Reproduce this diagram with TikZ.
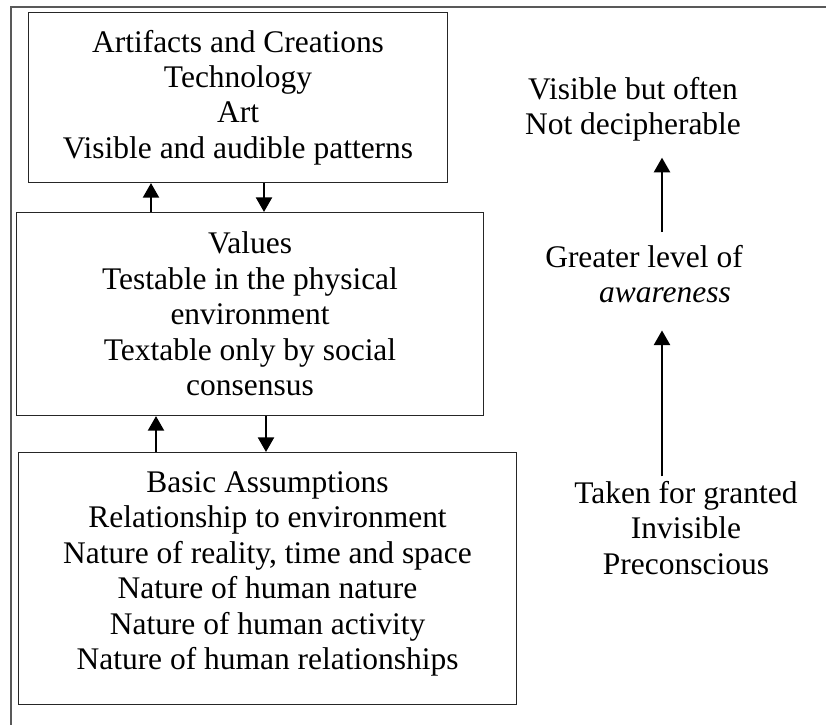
\documentclass[tikz,border=0pt]{standalone}
\usepackage{fontspec}
\setmainfont{Liberation Serif}
\usetikzlibrary{arrows.meta}
\tikzset{
  ebox/.style={rectangle, draw=black!85, line width=0.8pt, inner sep=0pt,
               anchor=north west, align=center},
  lbl/.style={inner sep=0pt, align=center},
  arr/.style={-{Triangle[length=11pt, width=12pt]}, line width=1.8pt, #1},
  arr/.default=black,
  frame/.style={draw=black!65, line width=0.9pt},
}
\begin{document}
\begin{tikzpicture}[x=0.75pt, y=-0.75pt,
    every node/.style={font=\fontsize{23.6pt}{26.6pt}\selectfont}]
  \useasboundingbox (0,0) rectangle (826,725);
  \draw[frame] (11,725) -- (11,7) -- (826,7);
  % the three levels
  \node[ebox, minimum width=314.25pt, minimum height=127.5pt] (artifacts) at (28,12)
    {Artifacts and Creations\\Technology\\Art\\Visible and audible patterns};
  \node[ebox, minimum width=350.25pt, minimum height=152.25pt] (values) at (16,212)
    {Values\\Testable in the physical\\environment\\Textable only by social\\consensus};
  \node[ebox, minimum width=373.5pt, minimum height=189pt, text depth=12pt] (basic) at (18,452)
    {Basic Assumptions\\Relationship to environment\\Nature of reality, time and space\\%
     Nature of human nature\\Nature of human activity\\Nature of human relationships};
  \coordinate (upa) at (151,0);
  \coordinate (downa) at (264,0);
  \coordinate (upb) at (156,0);
  \coordinate (downb) at (266,0);
  \draw[arr] (values.north -| upa) -- (artifacts.south -| upa);
  \draw[arr] (artifacts.south -| downa) -- (values.north -| downa);
  \draw[arr] (basic.north -| upb) -- (values.south -| upb);
  \draw[arr] (values.south -| downb) -- (basic.north -| downb);
  % awareness scale
  \node[lbl] (visible) at (633,109.5) {Visible but often\\Not decipherable};
  \node[lbl] (greater) at (644,274) {Greater level of\\\hspace*{1.33em}\textit{awareness}};
  \node[lbl] (taken) at (686,528) {Taken for granted\\Invisible\\Preconscious};
  \coordinate (col) at (662,0);
  \draw[arr, shorten <=9.5pt, shorten >=11.8pt] (greater.north -| col) -- (visible.south -| col);
  \draw[arr, shorten <=3.5pt, shorten >=20.4pt] (taken.north -| col) -- (greater.south -| col);
\end{tikzpicture}
\end{document}
